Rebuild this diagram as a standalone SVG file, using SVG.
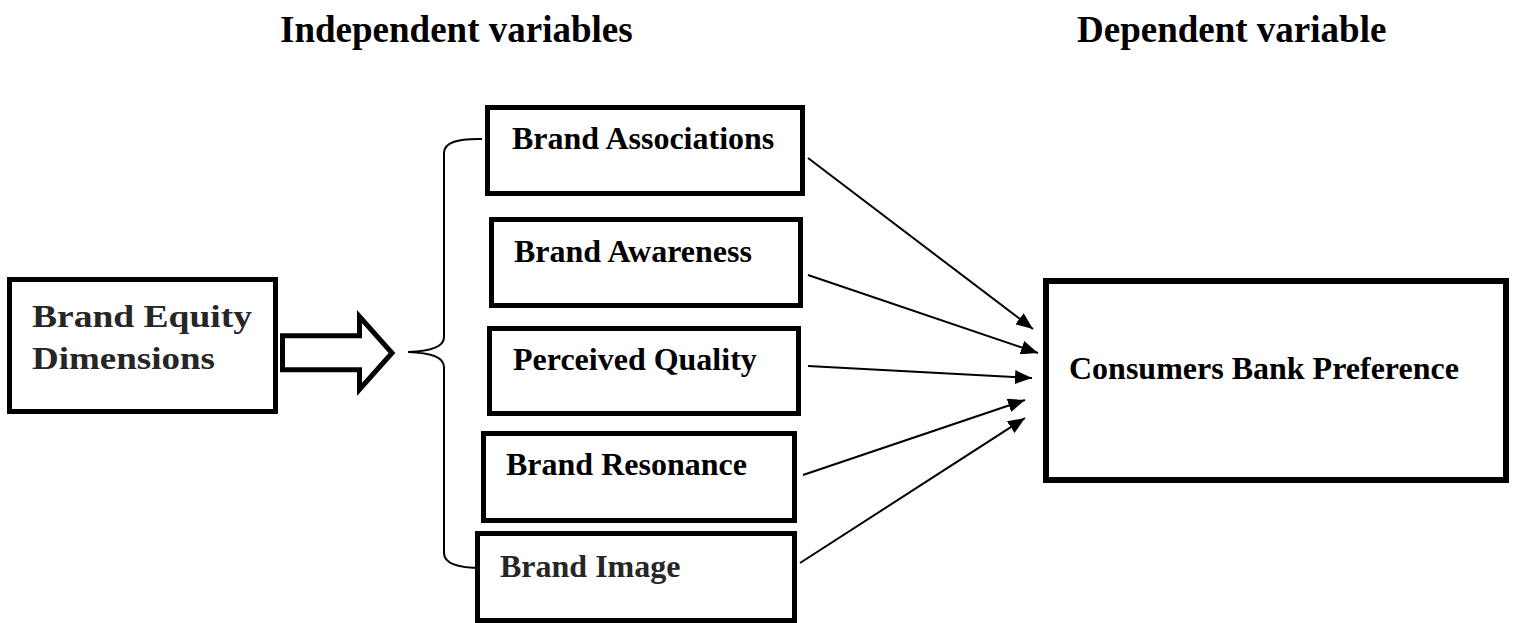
<svg xmlns="http://www.w3.org/2000/svg" width="1520" height="623" viewBox="0 0 1520 623">
  <style>
    .box { fill: #ffffff; stroke: #000000; stroke-width: 5; }
    .big { stroke-width: 6; }
    .lbl { font-family: "Liberation Serif", "Times New Roman", serif; font-weight: bold; font-size: 32px; fill: #000000; }
    .head { font-family: "Liberation Serif", "Times New Roman", serif; font-weight: bold; font-size: 37px; fill: #000000; }
    .grey { fill: #262626; }
    .link { fill: none; stroke: #000000; stroke-width: 2; }
  </style>
  <defs>
    <marker id="tip" markerUnits="userSpaceOnUse" markerWidth="17" markerHeight="14" refX="17" refY="7" orient="auto">
      <path d="M0,0 L17,7 L0,14 Z" fill="#000000"/>
    </marker>
  </defs>

  <rect width="1520" height="623" fill="#ffffff"/>

  <!-- column headings -->
  <g id="headings">
    <text class="head" x="280" y="42">Independent variables</text>
    <text class="head" x="1077" y="42">Dependent variable</text>
  </g>

  <!-- source construct -->
  <g id="brand-equity">
    <rect class="box" x="9.5" y="279.5" width="266" height="132"/>
    <text class="lbl grey" x="32" y="327" font-size="33" textLength="220" lengthAdjust="spacingAndGlyphs">Brand Equity</text>
    <text class="lbl grey" x="32" y="369" font-size="33" textLength="183" lengthAdjust="spacingAndGlyphs">Dimensions</text>
  </g>

  <!-- hollow block arrow -->
  <g id="block-arrow">
    <polygon points="282.5,335.8 359.5,335.8 359.5,316.5 392,353 359.5,389.5 359.5,369.8 282.5,369.8" fill="#ffffff" stroke="#000000" stroke-width="5" stroke-linejoin="miter"/>
  </g>

  <!-- curly brace grouping the dimensions -->
  <g id="brace">
    <path d="M482,139 Q444,138 444,153 L444,337 Q444,351 408,352 Q444,353 444,367 L444,553 Q444,568 482,568" fill="none" stroke="#000000" stroke-width="2"/>
  </g>

  <g id="brand-associations">
    <rect class="box" x="487.5" y="107.5" width="315" height="86"/>
    <text class="lbl" x="512" y="149">Brand Associations</text>
  </g>

  <g id="brand-awareness">
    <rect class="box" x="491.5" y="219.5" width="309" height="86"/>
    <text class="lbl" x="514" y="262">Brand Awareness</text>
  </g>

  <g id="perceived-quality">
    <rect class="box" x="489.5" y="328.5" width="309" height="85"/>
    <text class="lbl" x="513" y="370">Perceived Quality</text>
  </g>

  <g id="brand-resonance">
    <rect class="box" x="483.5" y="433.5" width="311" height="87"/>
    <text class="lbl" x="506" y="475">Brand Resonance</text>
  </g>

  <g id="brand-image">
    <rect class="box" x="477.5" y="533.5" width="317" height="87"/>
    <text class="lbl grey" x="500" y="577">Brand Image</text>
  </g>

  <g id="bank-preference">
    <rect class="box big" x="1046" y="281" width="460" height="199"/>
    <text class="lbl" x="1069" y="379">Consumers Bank Preference</text>
  </g>

  <!-- connectors -->
  <g id="connectors">
    <line class="link" x1="808" y1="158" x2="1033" y2="329" marker-end="url(#tip)"/>
    <line class="link" x1="808" y1="275" x2="1038" y2="353" marker-end="url(#tip)"/>
    <line class="link" x1="808" y1="366" x2="1032" y2="378" marker-end="url(#tip)"/>
    <line class="link" x1="803" y1="475" x2="1025" y2="400" marker-end="url(#tip)"/>
    <line class="link" x1="800" y1="563" x2="1025" y2="418" marker-end="url(#tip)"/>
  </g>
</svg>
